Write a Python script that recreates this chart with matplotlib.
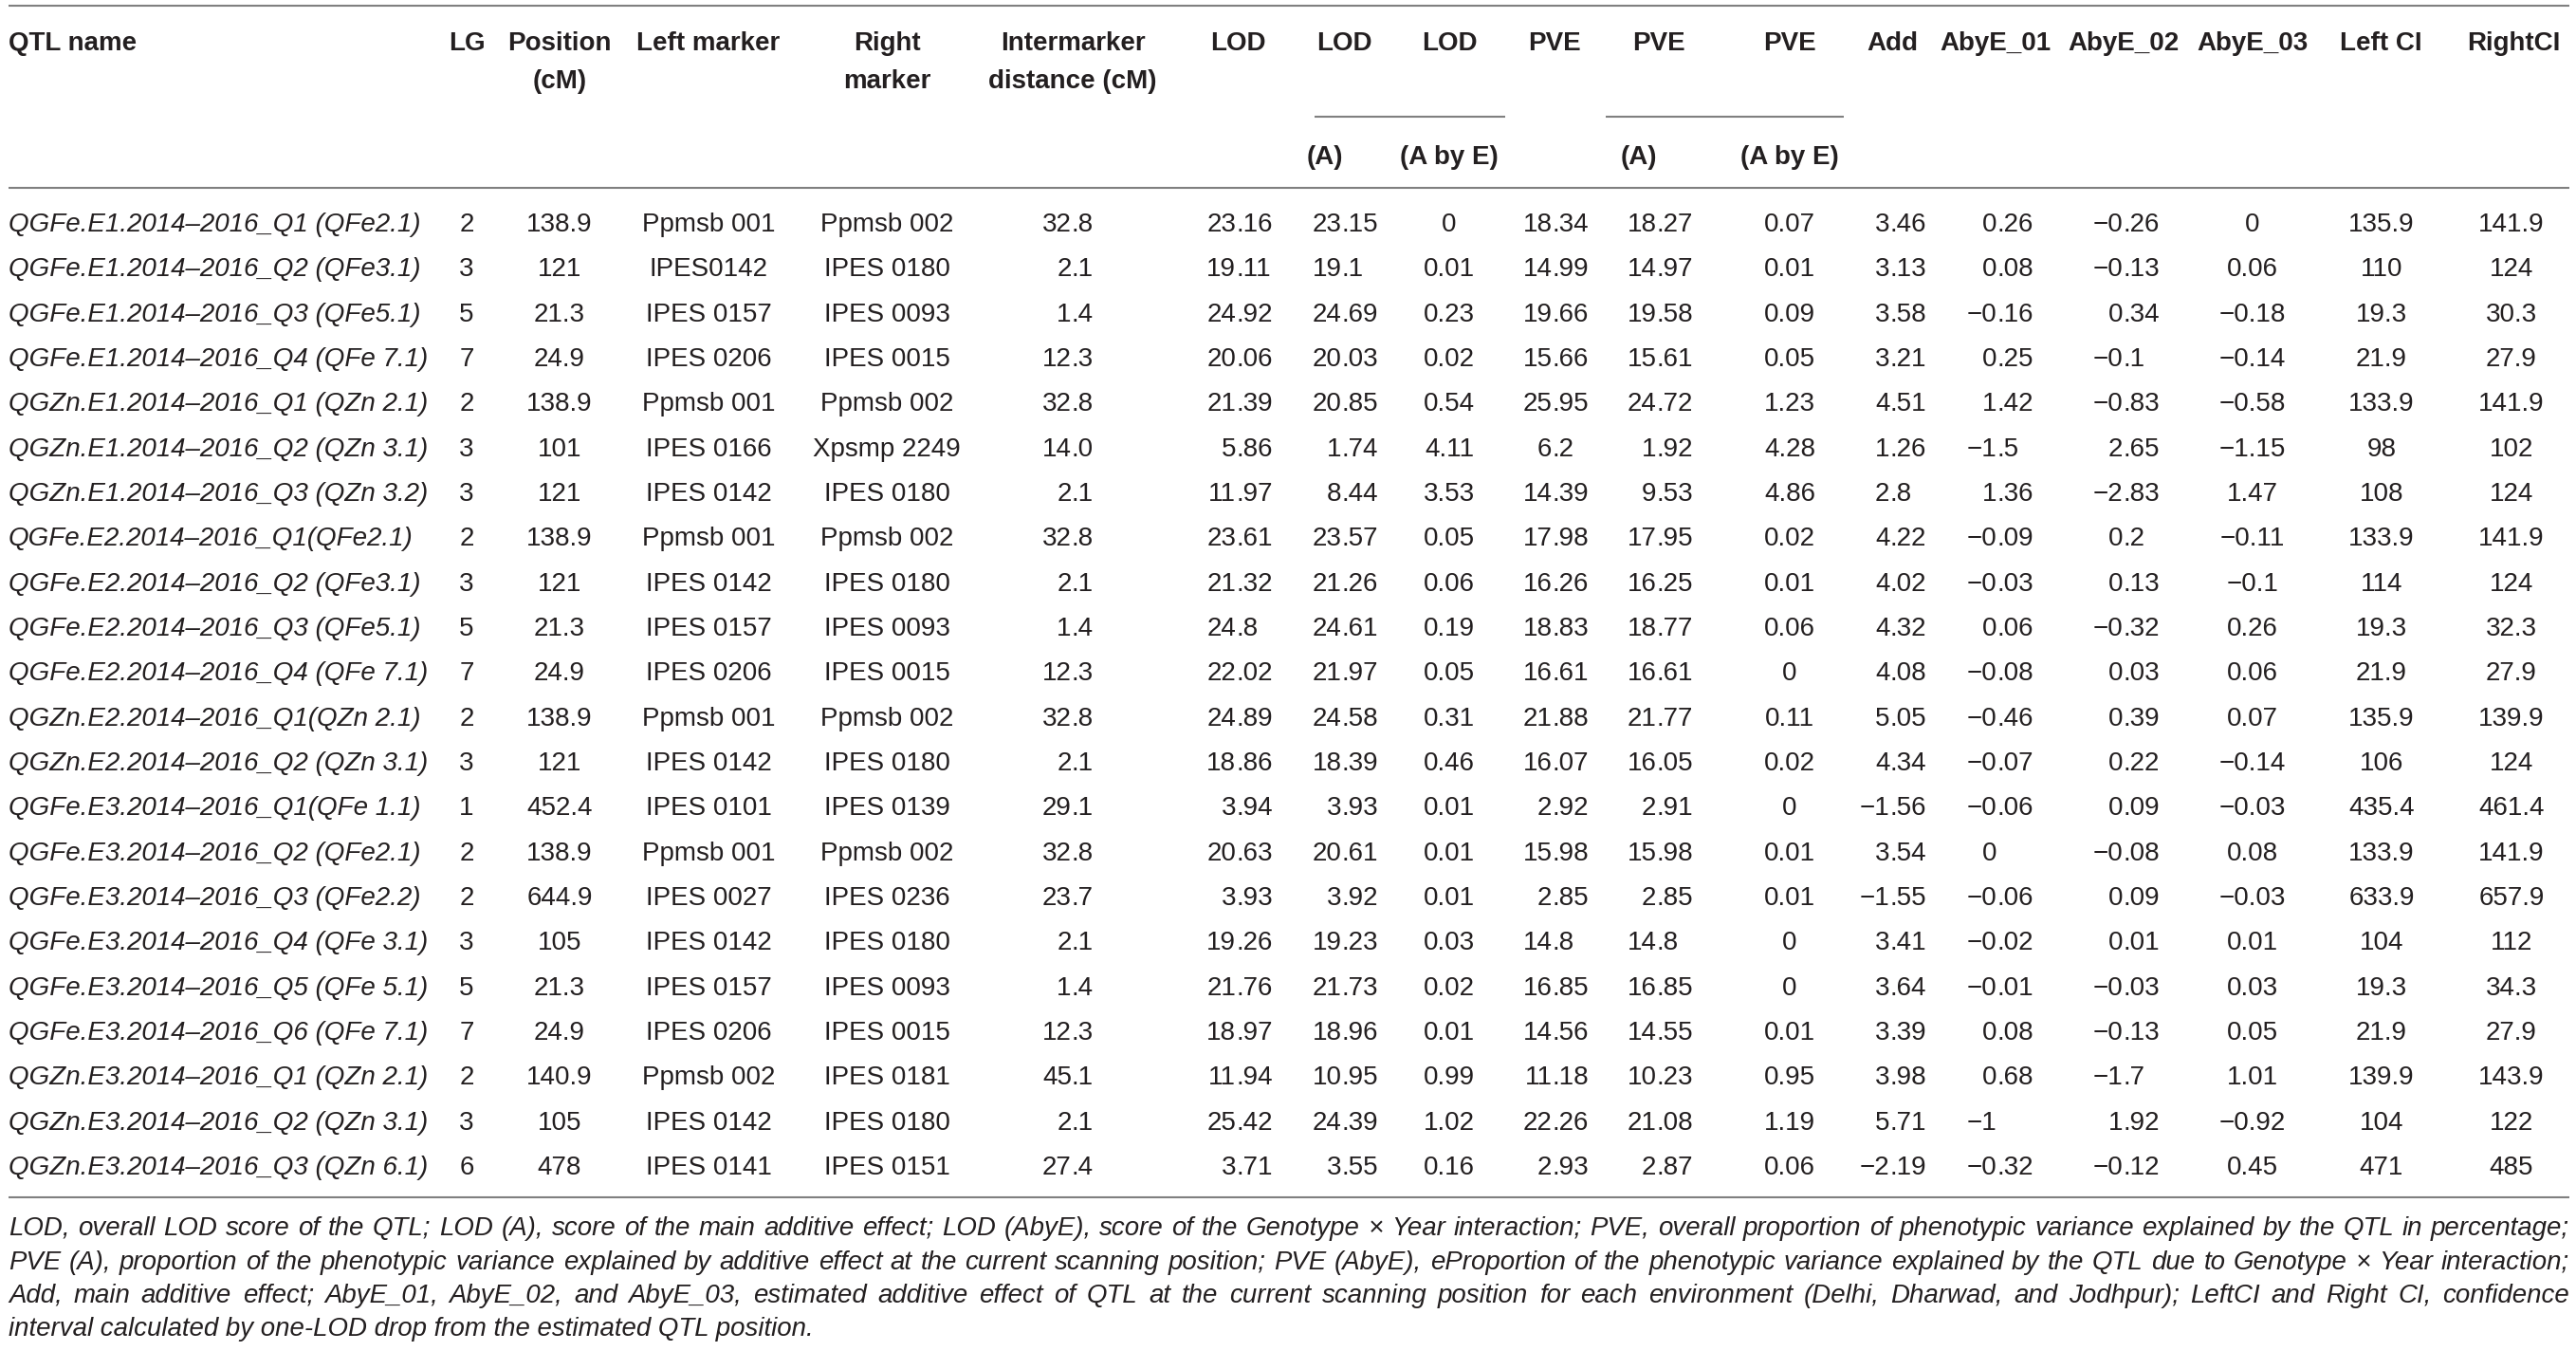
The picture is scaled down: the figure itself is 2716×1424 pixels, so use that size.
import matplotlib
matplotlib.use("Agg")
import matplotlib.pyplot as plt
from matplotlib import font_manager

# ---------------- data ----------------
qtl_names = [
    "QGFe.E1.2014–2016_Q1 (QFe2.1)", "QGFe.E1.2014–2016_Q2 (QFe3.1)",
    "QGFe.E1.2014–2016_Q3 (QFe5.1)", "QGFe.E1.2014–2016_Q4 (QFe 7.1)",
    "QGZn.E1.2014–2016_Q1 (QZn 2.1)", "QGZn.E1.2014–2016_Q2 (QZn 3.1)",
    "QGZn.E1.2014–2016_Q3 (QZn 3.2)", "QGFe.E2.2014–2016_Q1(QFe2.1)",
    "QGFe.E2.2014–2016_Q2 (QFe3.1)", "QGFe.E2.2014–2016_Q3 (QFe5.1)",
    "QGFe.E2.2014–2016_Q4 (QFe 7.1)", "QGZn.E2.2014–2016_Q1(QZn 2.1)",
    "QGZn.E2.2014–2016_Q2 (QZn 3.1)", "QGFe.E3.2014–2016_Q1(QFe 1.1)",
    "QGFe.E3.2014–2016_Q2 (QFe2.1)", "QGFe.E3.2014–2016_Q3 (QFe2.2)",
    "QGFe.E3.2014–2016_Q4 (QFe 3.1)", "QGFe.E3.2014–2016_Q5 (QFe 5.1)",
    "QGFe.E3.2014–2016_Q6 (QFe 7.1)", "QGZn.E3.2014–2016_Q1 (QZn 2.1)",
    "QGZn.E3.2014–2016_Q2 (QZn 3.1)", "QGZn.E3.2014–2016_Q3 (QZn 6.1)",
]
lg = ["2", "3", "5", "7", "2", "3", "3", "2", "3", "5", "7", "2", "3", "1", "2", "2", "3", "5", "7", "2", "3", "6"]
position = ["138.9", "121", "21.3", "24.9", "138.9", "101", "121", "138.9", "121", "21.3", "24.9",
            "138.9", "121", "452.4", "138.9", "644.9", "105", "21.3", "24.9", "140.9", "105", "478"]
left_marker = ["Ppmsb 001", "IPES0142", "IPES 0157", "IPES 0206", "Ppmsb 001", "IPES 0166", "IPES 0142",
               "Ppmsb 001", "IPES 0142", "IPES 0157", "IPES 0206", "Ppmsb 001", "IPES 0142", "IPES 0101",
               "Ppmsb 001", "IPES 0027", "IPES 0142", "IPES 0157", "IPES 0206", "Ppmsb 002", "IPES 0142",
               "IPES 0141"]
right_marker = ["Ppmsb 002", "IPES 0180", "IPES 0093", "IPES 0015", "Ppmsb 002", "Xpsmp 2249", "IPES 0180",
                "Ppmsb 002", "IPES 0180", "IPES 0093", "IPES 0015", "Ppmsb 002", "IPES 0180", "IPES 0139",
                "Ppmsb 002", "IPES 0236", "IPES 0180", "IPES 0093", "IPES 0015", "IPES 0181", "IPES 0180",
                "IPES 0151"]
intermarker = ["32.8", "2.1", "1.4", "12.3", "32.8", "14.0", "2.1", "32.8", "2.1", "1.4", "12.3",
               "32.8", "2.1", "29.1", "32.8", "23.7", "2.1", "1.4", "12.3", "45.1", "2.1", "27.4"]
lod = ["23.16", "19.11", "24.92", "20.06", "21.39", "5.86", "11.97", "23.61", "21.32", "24.8", "22.02",
       "24.89", "18.86", "3.94", "20.63", "3.93", "19.26", "21.76", "18.97", "11.94", "25.42", "3.71"]
lod_a = ["23.15", "19.1", "24.69", "20.03", "20.85", "1.74", "8.44", "23.57", "21.26", "24.61", "21.97",
         "24.58", "18.39", "3.93", "20.61", "3.92", "19.23", "21.73", "18.96", "10.95", "24.39", "3.55"]
lod_axe = ["0", "0.01", "0.23", "0.02", "0.54", "4.11", "3.53", "0.05", "0.06", "0.19", "0.05",
           "0.31", "0.46", "0.01", "0.01", "0.01", "0.03", "0.02", "0.01", "0.99", "1.02", "0.16"]
pve = ["18.34", "14.99", "19.66", "15.66", "25.95", "6.2", "14.39", "17.98", "16.26", "18.83", "16.61",
       "21.88", "16.07", "2.92", "15.98", "2.85", "14.8", "16.85", "14.56", "11.18", "22.26", "2.93"]
pve_a = ["18.27", "14.97", "19.58", "15.61", "24.72", "1.92", "9.53", "17.95", "16.25", "18.77", "16.61",
         "21.77", "16.05", "2.91", "15.98", "2.85", "14.8", "16.85", "14.55", "10.23", "21.08", "2.87"]
pve_axe = ["0.07", "0.01", "0.09", "0.05", "1.23", "4.28", "4.86", "0.02", "0.01", "0.06", "0",
           "0.11", "0.02", "0", "0.01", "0.01", "0", "0", "0.01", "0.95", "1.19", "0.06"]
add = ["3.46", "3.13", "3.58", "3.21", "4.51", "1.26", "2.8", "4.22", "4.02", "4.32", "4.08",
       "5.05", "4.34", "−1.56", "3.54", "−1.55", "3.41", "3.64", "3.39", "3.98", "5.71", "−2.19"]
abye_01 = ["0.26", "0.08", "−0.16", "0.25", "1.42", "−1.5", "1.36", "−0.09", "−0.03", "0.06", "−0.08",
           "−0.46", "−0.07", "−0.06", "0", "−0.06", "−0.02", "−0.01", "0.08", "0.68", "−1", "−0.32"]
abye_02 = ["−0.26", "−0.13", "0.34", "−0.1", "−0.83", "2.65", "−2.83", "0.2", "0.13", "−0.32", "0.03",
           "0.39", "0.22", "0.09", "−0.08", "0.09", "0.01", "−0.03", "−0.13", "−1.7", "1.92", "−0.12"]
abye_03 = ["0", "0.06", "−0.18", "−0.14", "−0.58", "−1.15", "1.47", "−0.11", "−0.1", "0.26", "0.06",
           "0.07", "−0.14", "−0.03", "0.08", "−0.03", "0.01", "0.03", "0.05", "1.01", "−0.92", "0.45"]
left_ci = ["135.9", "110", "19.3", "21.9", "133.9", "98", "108", "133.9", "114", "19.3", "21.9",
           "135.9", "106", "435.4", "133.9", "633.9", "104", "19.3", "21.9", "139.9", "104", "471"]
right_ci = ["141.9", "124", "30.3", "27.9", "141.9", "102", "124", "141.9", "124", "32.3", "27.9",
            "139.9", "124", "461.4", "141.9", "657.9", "112", "34.3", "27.9", "143.9", "122", "485"]

header_top = ["LG", "Position\n(cM)", "Left marker", "Right\nmarker", "Intermarker\ndistance (cM)",
              "LOD", "LOD", "LOD", "PVE", "PVE", "PVE", "Add", "AbyE_01", "AbyE_02", "AbyE_03",
              "Left CI", "RightCI"]
header_sub = ["(A)", "(A by E)", "(A)", "(A by E)"]
footnote_lines = [
    "LOD, overall LOD score of the QTL; LOD (A), score of the main additive effect; LOD (AbyE), score of the "
    "Genotype × Year interaction; PVE, overall proportion of phenotypic variance explained by the QTL in percentage;",
    "PVE (A), proportion of the phenotypic variance explained by additive effect at the current scanning position; "
    "PVE (AbyE), eProportion of the phenotypic variance explained by the QTL due to Genotype × Year interaction;",
    "Add, main additive effect; AbyE_01, AbyE_02, and AbyE_03, estimated additive effect of QTL at the current "
    "scanning position for each environment (Delhi, Dharwad, and Jodhpur); LeftCI and Right CI, confidence",
    "interval calculated by one-LOD drop from the estimated QTL position.",
]

columns = [lg, position, left_marker, right_marker, intermarker, lod, lod_a, lod_axe,
           pve, pve_a, pve_axe, add, abye_01, abye_02, abye_03, left_ci, right_ci]

# ---------------- layout (pixels) ----------------
W, H = 2716, 1424
FAM = ["Liberation Sans", "DejaVu Sans"]
FS = 20
TXT = "#231f20"
LINE = "#808080"
# (mode, x, decimals) ; decimal mode: x is right edge for numbers with `decimals` digits
col_layout = [
    ("center", 492, 0), ("center", 590, 0), ("center", 747, 0), ("center", 935, 0),
    ("decimal", 1153, 1), ("decimal", 1342, 2), ("decimal", 1453, 2), ("center", 1528, 0),
    ("decimal", 1675, 2), ("decimal", 1785, 2), ("center", 1887, 0), ("decimal", 2031, 2),
    ("decimal", 2144, 2), ("decimal", 2277, 2), ("center", 2375, 0), ("center", 2511, 0),
    ("center", 2648, 0),
]
header_x = [492, 590, 747, 935, 1131, 1305, 1417, 1528, 1639, 1749, 1887, 1995, 2104, 2239, 2375, 2510, 2650]
sub_x = [1397, 1528, 1728, 1887]
name_x = 9
row0, row_step = 234, 47.33
cap_half = 10  # half cap-height in px

fig = plt.figure(figsize=(W / 100, H / 100), dpi=100)
ax = fig.add_axes([0, 0, 1, 1])
ax.set_xlim(0, W)
ax.set_ylim(H, 0)
ax.axis("off")
renderer = fig.canvas.get_renderer()


def text_width(s, size=FS, style="normal", weight="normal"):
    t = ax.text(0, 0, s, fontsize=size, family=FAM, style=style, weight=weight)
    w = t.get_window_extent(renderer).width
    t.remove()
    return w


# rules
lw = 1.5
ax.plot([9, 2709], [6, 6], color=LINE, lw=lw, solid_capstyle="butt")
ax.plot([9, 2709], [198, 198], color=LINE, lw=lw, solid_capstyle="butt")
ax.plot([9, 2709], [1262, 1262], color=LINE, lw=lw, solid_capstyle="butt")
ax.plot([1386, 1587], [123, 123], color=LINE, lw=lw, solid_capstyle="butt")
ax.plot([1693, 1944], [123, 123], color=LINE, lw=lw, solid_capstyle="butt")

# header
hb = dict(fontsize=FS, family=FAM, weight="bold", color=TXT, va="baseline")
ax.text(name_x, 43 + cap_half, "QTL name", ha="left", **hb)
for hx, label in zip(header_x, header_top):
    for k, part in enumerate(label.split("\n")):
        ax.text(hx, 43 + 40 * k + cap_half, part, ha="center", **hb)
for sx, label in zip(sub_x, header_sub):
    ax.text(sx, 163 + cap_half, label, ha="center", **hb)

# body
kw = dict(fontsize=FS, family=FAM, color=TXT, va="baseline")
for i, name in enumerate(qtl_names):
    ax.text(name_x, row0 + i * row_step + cap_half, name, ha="left", style="italic", **kw)

for values, (mode, x, nd) in zip(columns, col_layout):
    if mode == "decimal":
        xdec = x - text_width("." + "0" * nd)
    for i, v in enumerate(values):
        yb = row0 + i * row_step + cap_half
        if mode == "center":
            ax.text(x, yb, v, ha="center", **kw)
        else:
            if "." in v:
                ip, fp = v.split(".", 1)
                ax.text(xdec, yb, ip, ha="right", **kw)
                ax.text(xdec, yb, "." + fp, ha="left", **kw)
            else:
                ax.text(xdec, yb, v, ha="right", **kw)

# footnote (italic, justified)
fx0, fx1 = 9, 2709
target = fx1 - fx0
fs_f = FS
nat = max(text_width(l, fs_f, "italic") for l in footnote_lines[:3])
if nat > target * 0.985:
    fs_f = fs_f * target * 0.985 / nat
space_w = text_width("a a", fs_f, "italic") - text_width("aa", fs_f, "italic")
foot_y = [1292, 1328, 1363, 1398]
for li, line in enumerate(footnote_lines):
    yb = foot_y[li] + cap_half * fs_f / FS
    words = line.split(" ")
    if li < 3:
        widths = [text_width(w_, fs_f, "italic") for w_ in words]
        gap = (target - sum(widths)) / (len(words) - 1)
        xx = fx0
        for w_, ww in zip(words, widths):
            ax.text(xx, yb, w_, ha="left", fontsize=fs_f, family=FAM, style="italic",
                    color=TXT, va="baseline")
            xx += ww + gap
    else:
        ax.text(fx0, yb, line, ha="left", fontsize=fs_f, family=FAM, style="italic",
                color=TXT, va="baseline")

fig.savefig("out.png", dpi=100, facecolor="white")
